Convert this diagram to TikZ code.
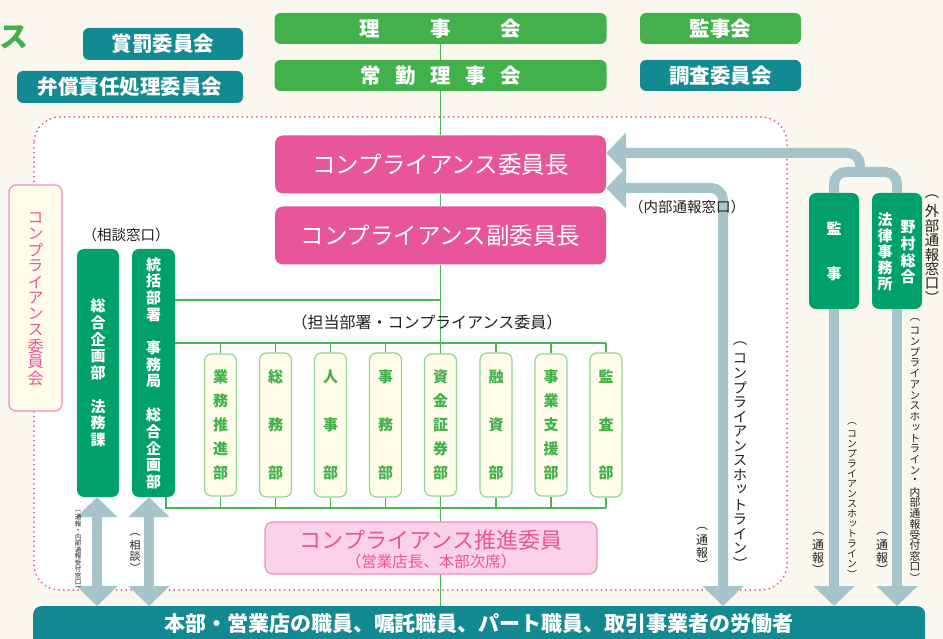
\documentclass[tikz,border=0pt]{standalone}
\usepackage{fontspec}
\setmainfont{Noto Sans CJK JP}
\newfontfamily\vfont[RawFeature=+vert]{Noto Sans CJK JP}
\usetikzlibrary{arrows.meta,backgrounds}
\definecolor{cbg}{RGB}{250,247,239}
\definecolor{cgreen}{RGB}{67,177,75}
\definecolor{cteal}{RGB}{19,138,146}
\definecolor{cdgreen}{RGB}{0,160,107}
\definecolor{cpink}{RGB}{233,85,154}
\definecolor{clpink}{RGB}{249,211,229}
\definecolor{cpinkbd}{RGB}{238,141,186}
\definecolor{carrow}{RGB}{166,196,201}
\definecolor{cyel}{RGB}{255,253,233}
\definecolor{cdeptbd}{RGB}{150,210,150}
\definecolor{cline}{RGB}{76,182,80}
\definecolor{ctext}{RGB}{35,31,32}
\makeatletter
\newcommand\vtxt[2]{\vbox{\offinterlineskip\@tfor\vch:=#2\do{\hbox to 1.1em{\hss\vbox to #1{\vss\hbox{\vch}\vss}\hss}}}}
\makeatother
\newcommand\fs[1]{\fontsize{#1}{#1}\selectfont}
\begin{document}
\begin{tikzpicture}[x=1pt,y=-1pt,
  rbox/.style={rounded corners=6pt, inner sep=0pt, text=white, font=\bfseries\fs{20.5}},
  gbox/.style={rbox, fill=cgreen, minimum width=332pt, minimum height=31pt},
  tbox/.style={rbox, fill=cteal, minimum height=31pt},
  pbox/.style={fill=cpink, rounded corners=8pt, inner sep=0pt, text=white, font=\fs{23.5}, minimum width=331pt, minimum height=58pt},
  vgbox/.style={fill=cdgreen, rounded corners=7pt, inner sep=0pt, text=white, font=\vfont\bfseries\fs{15}},
  vgtext/.style={inner sep=0pt, text=white, font=\vfont\bfseries\fs{15}},
  dept/.style={draw=cdeptbd, line width=1.2pt, fill=cyel, rounded corners=7pt, minimum width=32pt, minimum height=142pt, inner sep=0pt, text=cgreen, font=\vfont\bfseries\fs{15}},
  gline/.style={draw=cline, line width=1.4pt},
  harrow/.style={draw=carrow, line width=10pt, rounded corners=12pt},
  >={Triangle[width=40pt,length=20pt]},
  lab/.style={inner sep=0pt, text=ctext, font=\fs{14.5}},
  vlab/.style={inner sep=0pt, text=ctext, font=\vfont\fs{#1}},
]
\useasboundingbox (0,0) rectangle (943,639);
\clip (0,0) rectangle (943,639);

% top boxes
\node[gbox] (riji) at (440.5,28.5) {理\hspace{50pt}事\hspace{50pt}会};
\node[gbox] (joukin) at (440.5,75.5) {常\hspace{14.5pt}勤\hspace{14.5pt}理\hspace{14.5pt}事\hspace{14.5pt}会};
\node[gbox, minimum width=161pt] (kanjikai) at (720.5,28.5) {監事会};
\node[tbox, minimum width=161pt] (chousa) at (720.5,75.5) {調査委員会};
\node[tbox, minimum width=160pt, minimum height=32pt] (shoubatsu) at (163,44) {賞罰委員会};
\node[tbox, minimum width=226pt, minimum height=32pt] (benshou) at (130,87) {弁償責任処理委員会};
\node[inner sep=0pt, text=cgreen, font=\bfseries\fs{29}] (title) at (14,37) {ス};

% pink boxes
\node[pbox] (iincho) at (440.5,164.5) {コンプライアンス委員長};
\node[pbox] (fuku) at (440.5,235.5) {コンプライアンス副委員長};

% left committee
\node[draw=cpinkbd, line width=1.2pt, fill=cyel, rounded corners=7pt, minimum width=53pt, minimum height=226pt, inner sep=0pt, text=cpink, font=\vfont\fs{16}] (iinkai) at (35.5,298) {\vtxt{16pt}{コンプライアンス委員会}};

% green tall boxes
\node[vgbox, minimum width=42pt, minimum height=248pt] (sogo) at (98,373) {\vtxt{16.7pt}{総合企画部　法務課}};
\node[vgbox, minimum width=43pt, minimum height=248pt] (tokatsu) at (153.5,373) {\vtxt{16.7pt}{統括部署　事務局　総合企画部}};

% departments
\node[dept] (d1) at (220.5,425) {\vtxt{24pt}{業務推進部}};
\node[dept] (d2) at (275.5,425) {\vtxt{48pt}{総務部}};
\node[dept] (d3) at (330.5,425) {\vtxt{48pt}{人事部}};
\node[dept] (d4) at (385.5,425) {\vtxt{48pt}{事務部}};
\node[dept] (d5) at (440.5,425) {\vtxt{24pt}{資金証券部}};
\node[dept] (d6) at (496,425) {\vtxt{48pt}{融資部}};
\node[dept] (d7) at (551,425) {\vtxt{24pt}{事業支援部}};
\node[dept] (d8) at (606,425) {\vtxt{48pt}{監査部}};

% promotion committee
\node[draw=cpinkbd, line width=1.2pt, fill=clpink, rounded corners=8pt, minimum width=332pt, minimum height=52pt, inner sep=0pt] (suishin) at (431,548) {};
\node[inner sep=0pt, text=cpink, font=\fs{22}] (suishin1) at (431,540) {コンプライアンス推進委員};
\node[inner sep=0pt, text=cpink, font=\fs{15.5}] (suishin2) at (431,562) {（営業店長、本部次席）};

% right boxes
\node[vgbox, minimum width=50pt, minimum height=116pt] (kanji) at (834,251) {\vtxt{22.5pt}{監　事}};
\node[vgbox, minimum width=50pt, minimum height=116pt] (nomura) at (897,251) {};
\node[vgtext] (nomura1) at (908,252) {\vtxt{16.7pt}{野村総合}};
\node[vgtext] (nomura2) at (885,252) {\vtxt{16pt}{法律事務所}};

% bottom bar
\node[fill=cteal, rounded corners=8pt, minimum width=892pt, minimum height=54pt, anchor=north west, inner sep=0pt] (bar) at (33,606) {};
\node[inner sep=0pt, text=white, font=\bfseries\fs{21}] (bartext) at (479,624) {本部・営業店の職員、嘱託職員、パート職員、取引事業者の労働者};

% background layer
\begin{pgfonlayer}{background}
\fill[cbg] (0,0) rectangle (943,639);
\draw[cpink, line width=2pt, dash pattern=on 0pt off 4.8pt, line cap=round, fill=white, rounded corners=26pt] (34,117) rectangle (787,590);
\draw[gline] (riji) -- (joukin);
\draw[gline] (joukin) -- (iincho);
\draw[gline] (iincho) -- (fuku);
\draw[gline] (fuku.south) -- (fuku.south |- bar.north);
\draw[gline] (tokatsu.east |- 0,300) -- (fuku.south |- 0,300);
\draw[gline] (tokatsu.east |- 0,343) -- (d8.north |- 0,343);
\foreach \d in {d1,d2,d3,d4,d5,d6,d7,d8}{
  \draw[gline] (\d.north) -- (\d.north |- 0,343);
  \draw[gline] (\d.south) -- (\d.south |- 0,508);
}
\draw[gline] (tokatsu.south -| 166,0) |- (d8.south |- 0,508);
\end{pgfonlayer}

% arrows
\coordinate (joinA) at (860,174);
\draw[harrow] (kanji.north) |- (nomura.north |- 0,172) -- (nomura.north);
\draw[harrow, ->] (joinA) |- (iincho.east |- 0,153);
\draw[harrow, <->] (bar.north -| 723,0) |- (iincho.east |- 0,188);
\draw[harrow, ->] (kanji.south) -- (kanji.south |- bar.north);
\draw[harrow, ->] (nomura.south) -- (nomura.south |- bar.north);
\draw[harrow, <->] (sogo.south -| 97,0) -- (bar.north -| 97,0);
\draw[harrow, <->] (tokatsu.south -| 149,0) -- (bar.north -| 149,0);

% labels
\node[lab] (l1) at (126,235) {（相談窓口）};
\node[lab, font=\fs{16}] (l2) at (427,322) {（担当部署・コンプライアンス委員）};
\node[lab] (l3) at (687,207) {（内部通報窓口）};
\node[vlab=14.5] (v1) at (740,453.5) {\vtxt{14.6pt}{（コンプライアンスホットライン）}};
\node[vlab=12] (v2) at (702,546.5) {\vtxt{12pt}{（通報）}};
\node[vlab=10] (v3) at (852,499) {\vtxt{10pt}{（コンプライアンスホットライン）}};
\node[vlab=12] (v4) at (818,551.5) {\vtxt{12pt}{（通報）}};
\node[vlab=10.75] (v5) at (915,449) {\vtxt{10.75pt}{（コンプライアンスホットライン・内部通報受付窓口）}};
\node[vlab=12] (v6) at (882,551.5) {\vtxt{12pt}{（通報）}};
\node[vlab=14.4] (v7) at (932,247.5) {\vtxt{14.4pt}{（外部通報窓口）}};
\node[vlab=6.5] (v8) at (78,550) {\vtxt{6.5pt}{（通報・内部通報受付窓口）}};
\node[vlab=11] (v9) at (135,551) {\vtxt{11pt}{（相談）}};
\end{tikzpicture}
\end{document}
